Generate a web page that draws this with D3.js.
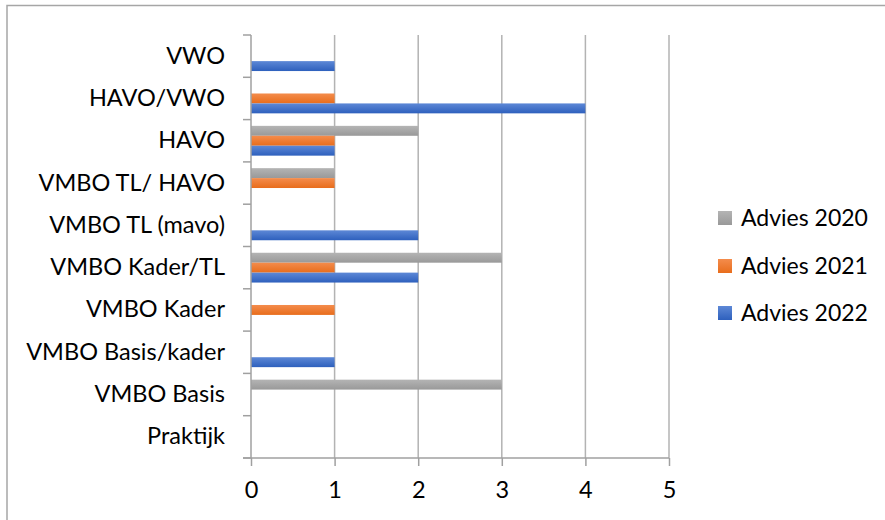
<!DOCTYPE html>
<html>
<head>
<meta charset="utf-8">
<script src="https://cdn.jsdelivr.net/npm/d3@7"></script>
<style>
  html, body { margin: 0; padding: 0; background: #ffffff; }
  svg { display: block; }
  text { font-family: Lato, "Open Sans", sans-serif; fill: #000; }
</style>
</head>
<body>
<div id="chart"></div>
<script>
// Categories (bottom to top as shown in the chart)
const categories = ["Praktijk", "VMBO Basis", "VMBO Basis/kader", "VMBO Kader", "VMBO Kader/TL",
  "VMBO TL (mavo)", "VMBO TL/ HAVO", "HAVO", "HAVO/VWO", "VWO"];
const seriesNames = ["Advies 2020", "Advies 2021", "Advies 2022"];
const advies2020 = [0, 3, 0, 0, 3, 0, 1, 2, 0, 0];
const advies2021 = [0, 0, 0, 1, 1, 0, 1, 1, 1, 0];
const advies2022 = [0, 0, 1, 0, 2, 2, 0, 1, 4, 1];
const xTicks = [0, 1, 2, 3, 4, 5];

const seriesValues = [advies2020, advies2021, advies2022];
const colors = [
  { top: "#b4b4b4", bottom: "#999999" },
  { top: "#f48c4c", bottom: "#e86d1c" },
  { top: "#5d88d6", bottom: "#2e60bd" }
];

const W = 885, H = 520;
const plot = { left: 251, right: 669, top: 35, bottom: 458 };
const FS = 23.5;

const svg = d3.select("#chart").append("svg").attr("width", W).attr("height", H);

const defs = svg.append("defs");
colors.forEach((c, i) => {
  const g = defs.append("linearGradient").attr("id", "grad" + i)
    .attr("x1", 0).attr("y1", 0).attr("x2", 0).attr("y2", 1);
  g.append("stop").attr("offset", "0%").attr("stop-color", c.top);
  g.append("stop").attr("offset", "100%").attr("stop-color", c.bottom);
});

// Outer chart border (cropped at right/bottom in the reference)
svg.append("rect").attr("x", 7).attr("y", 5.5).attr("width", W + 10).attr("height", H + 10)
  .attr("fill", "none").attr("stroke", "#a6a6a6").attr("stroke-width", 1.5);

const x = d3.scaleLinear().domain([0, 5]).range([plot.left, plot.right]);
// reversed so first category is at the bottom
const y = d3.scaleBand().domain(categories.slice().reverse()).range([plot.top, plot.bottom]).padding(0);
const inner = d3.scaleBand().domain(seriesNames).range([0, y.bandwidth()]).paddingInner(0).paddingOuter(0.63);

// Gridlines
svg.append("g").selectAll("line").data(xTicks.filter(t => t > 0)).join("line")
  .attr("x1", d => x(d)).attr("x2", d => x(d))
  .attr("y1", plot.top).attr("y2", plot.bottom)
  .attr("stroke", "#b3b3b3").attr("stroke-width", 1.5);

// Bars
const rows = [];
categories.forEach((cat, ci) => {
  seriesNames.forEach((s, si) => {
    const v = seriesValues[si][ci];
    if (v > 0) rows.push({ cat, s, si, v });
  });
});
svg.append("g").selectAll("rect").data(rows).join("rect")
  .attr("x", x(0))
  .attr("y", d => y(d.cat) + inner(d.s))
  .attr("width", d => x(d.v) - x(0))
  .attr("height", inner.bandwidth())
  .attr("fill", d => `url(#grad${d.si})`);

// Y axis
const yAxis = svg.append("g").attr("transform", `translate(${plot.left},0)`)
  .call(d3.axisLeft(y).tickSize(0).tickPadding(26));
yAxis.select(".domain").remove();
yAxis.selectAll("text").attr("font-size", FS).attr("font-family", "Lato, sans-serif");
// Category boundary ticks
const bounds = d3.range(categories.length + 1).map(i => plot.top + i * y.step());
svg.append("g").selectAll("line").data(bounds).join("line")
  .attr("x1", plot.left - 8).attr("x2", plot.left)
  .attr("y1", d => d).attr("y2", d => d)
  .attr("stroke", "#a0a0a0").attr("stroke-width", 1.5);
svg.append("line").attr("x1", plot.left).attr("x2", plot.left)
  .attr("y1", plot.top).attr("y2", plot.bottom)
  .attr("stroke", "#a0a0a0").attr("stroke-width", 1.5);

// X axis
const xAxis = svg.append("g").attr("transform", `translate(0,${plot.bottom})`)
  .call(d3.axisBottom(x).tickValues(xTicks).tickFormat(d3.format("d")).tickSize(8).tickSizeOuter(0).tickPadding(15));
xAxis.select(".domain").attr("stroke", "#a0a0a0").attr("stroke-width", 1.5)
  .attr("d", `M${plot.left - 8},0H${plot.right}`);
xAxis.selectAll(".tick line").attr("stroke", "#a0a0a0").attr("stroke-width", 1.5);
xAxis.selectAll("text").attr("font-size", FS).attr("font-family", "Lato, sans-serif");

// Legend
const legend = svg.append("g").attr("transform", "translate(718,0)");
const legY = [218, 266, 313];
seriesNames.forEach((s, i) => {
  const g = legend.append("g").attr("transform", `translate(0,${legY[i]})`);
  g.append("rect").attr("x", 0).attr("y", -7).attr("width", 14).attr("height", 14)
    .attr("fill", `url(#grad${i})`);
  g.append("text").attr("x", 23).attr("y", 0).attr("dy", "0.35em")
    .attr("font-size", 23).text(s);
});
</script>
</body>
</html>
